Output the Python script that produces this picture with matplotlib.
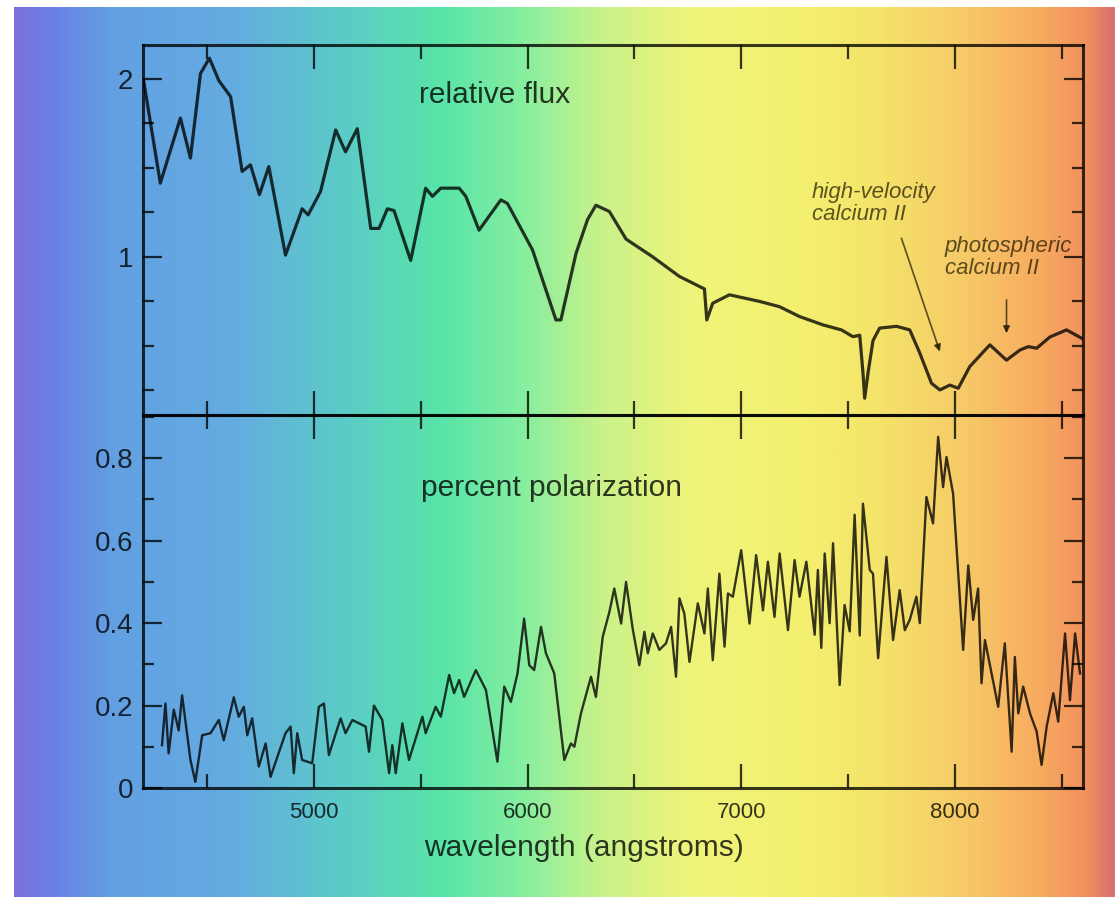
import numpy as np
import matplotlib.pyplot as plt
from matplotlib.colors import LinearSegmentedColormap
from matplotlib.ticker import MultipleLocator, FuncFormatter

plt.rcParams['font.family'] = ['Liberation Sans', 'DejaVu Sans']

# relative flux spectrum (wavelength in angstroms)
flux_wl = [4203, 4281, 4375, 4422, 4469, 4511, 4555, 4610, 4664, 4703,
           4745, 4789, 4867, 4945, 4973, 5031, 5102, 5148, 5203, 5266,
           5305, 5344, 5375, 5453, 5523, 5555, 5594, 5680, 5711, 5773,
           5875, 5906, 6023, 6133, 6156, 6227, 6281, 6320, 6383, 6461,
           6586, 6711, 6828, 6839, 6867, 6945, 7086, 7180, 7273, 7383,
           7469, 7523, 7555, 7570, 7578, 7594, 7617, 7648, 7727, 7789,
           7836, 7891, 7930, 7977, 8016, 8070, 8164, 8242, 8305, 8344,
           8383, 8445, 8523, 8594]
flux = [1.99, 1.414, 1.78, 1.555, 2.03, 2.116, 1.99, 1.90, 1.48, 1.517,
        1.35, 1.507, 1.01, 1.27, 1.236, 1.367, 1.713, 1.59, 1.72, 1.16,
        1.16, 1.27, 1.26, 0.98, 1.386, 1.34, 1.386, 1.386, 1.34, 1.15,
        1.32, 1.30, 1.04, 0.646, 0.646, 1.02, 1.21, 1.29, 1.255, 1.10,
        1.00, 0.89, 0.82, 0.646, 0.74, 0.787, 0.75, 0.72, 0.665, 0.618,
        0.59, 0.552, 0.56, 0.35, 0.206, 0.35, 0.53, 0.60, 0.61, 0.59,
        0.46, 0.29, 0.253, 0.28, 0.262, 0.384, 0.506, 0.42, 0.477, 0.496,
        0.487, 0.55, 0.59, 0.543]

# percent polarization
pol_wl = [4289, 4305, 4320, 4344, 4367, 4383, 4422, 4445, 4477, 4516,
          4555, 4578, 4625, 4648, 4672, 4688, 4711, 4742, 4774, 4797,
          4867, 4891, 4906, 4922, 4945, 4992, 5023, 5047, 5070, 5125,
          5148, 5180, 5242, 5258, 5281, 5320, 5352, 5367, 5383, 5414,
          5445, 5508, 5523, 5570, 5594, 5633, 5656, 5680, 5703, 5758,
          5805, 5859, 5891, 5922, 5953, 5984, 6008, 6031, 6063, 6086,
          6125, 6172, 6203, 6219, 6250, 6297, 6320, 6352, 6383, 6406,
          6438, 6461, 6492, 6523, 6547, 6563, 6586, 6617, 6648, 6672,
          6695, 6711, 6734, 6758, 6797, 6828, 6844, 6867, 6898, 6922,
          6938, 6961, 7000, 7039, 7070, 7102, 7125, 7156, 7180, 7219,
          7250, 7273, 7305, 7344, 7359, 7375, 7391, 7414, 7430, 7461,
          7484, 7508, 7531, 7555, 7570, 7602, 7617, 7641, 7680, 7711,
          7742, 7766, 7789, 7820, 7836, 7867, 7898, 7922, 7945, 7961,
          7992, 8039, 8063, 8086, 8109, 8125, 8141, 8203, 8234, 8266,
          8281, 8297, 8320, 8352, 8383, 8406, 8430, 8461, 8484, 8516,
          8539, 8563, 8586]
pol = [0.104, 0.205, 0.084, 0.19, 0.14, 0.225, 0.068, 0.015, 0.128, 0.133,
       0.165, 0.116, 0.22, 0.173, 0.197, 0.128, 0.169, 0.052, 0.108, 0.027,
       0.133, 0.149, 0.036, 0.133, 0.068, 0.06, 0.197, 0.205, 0.08, 0.169,
       0.133, 0.165, 0.149, 0.088, 0.2, 0.165, 0.036, 0.104, 0.036, 0.157,
       0.068, 0.173, 0.133, 0.197, 0.173, 0.274, 0.23, 0.262, 0.221, 0.286,
       0.238, 0.064, 0.246, 0.209, 0.278, 0.411, 0.298, 0.286, 0.391, 0.327,
       0.278, 0.068, 0.108, 0.1, 0.181, 0.27, 0.221, 0.367, 0.427, 0.484,
       0.399, 0.5, 0.387, 0.298, 0.379, 0.327, 0.375, 0.335, 0.351, 0.391,
       0.27, 0.46, 0.423, 0.306, 0.448, 0.375, 0.484, 0.31, 0.52, 0.343,
       0.472, 0.464, 0.577, 0.399, 0.565, 0.431, 0.549, 0.415, 0.569, 0.383,
       0.553, 0.464, 0.549, 0.372, 0.529, 0.340, 0.569, 0.4, 0.594, 0.25,
       0.444, 0.38, 0.663, 0.37, 0.69, 0.529, 0.52, 0.315, 0.561, 0.359,
       0.48, 0.383, 0.408, 0.464, 0.4, 0.706, 0.642, 0.852, 0.73, 0.803,
       0.714, 0.335, 0.54, 0.408, 0.484, 0.254, 0.359, 0.197, 0.351, 0.088,
       0.318, 0.181, 0.246, 0.181, 0.137, 0.056, 0.149, 0.23, 0.161, 0.375,
       0.213, 0.375, 0.278]

W, H = 1115, 897
fig = plt.figure(figsize=(W / 100, H / 100), dpi=100)
fig.patch.set_facecolor('white')

# rainbow backdrop behind both panels
stops = [(14, '#7a72dc'), (45, '#6c7ee6'), (110, '#62a0e2'), (230, '#64ace0'),
         (340, '#5ccbc8'), (440, '#58e4a8'), (520, '#84eea0'), (600, '#c8f28a'),
         (690, '#eef47a'), (800, '#f4f070'), (880, '#f4e46a'), (960, '#f6cc68'),
         (1040, '#f8ac60'), (1090, '#f0905e'), (1115, '#dc7070')]
spectrum = LinearSegmentedColormap.from_list(
    'spectrum', [((p - 14) / (W - 14), c) for p, c in stops])
bg = fig.add_axes([14 / W, 0, 1 - 14 / W, 1 - 7 / H])
bg.imshow(np.linspace(0, 1, 600)[None, :], aspect='auto', cmap=spectrum,
          extent=[0, 1, 0, 1])
bg.axis('off')

ink = (0, 0, 0, 0.78)
soft = (0.12, 0.1, 0.0, 0.72)

left, width = 143 / W, 940 / W
ax_top = fig.add_axes([left, 1 - 415 / H, width, 370 / H])
ax_bot = fig.add_axes([left, 1 - 788 / H, width, 373 / H])

for ax in (ax_top, ax_bot):
    ax.set_facecolor('none')
    ax.set_xlim(4200, 8600)
    for s in ax.spines.values():
        s.set_edgecolor(ink)
        s.set_linewidth(2.2)
    ax.xaxis.set_major_locator(MultipleLocator(1000))
    ax.xaxis.set_minor_locator(MultipleLocator(500))
    ax.tick_params(which='both', direction='in', top=True, right=True,
                   color=ink, width=1.6, labelcolor=ink, labelsize=20, pad=7)
    ax.tick_params(axis='x', which='major', length=17)
    ax.tick_params(axis='x', which='minor', length=10)
    ax.tick_params(axis='y', which='major', length=14)
    ax.tick_params(axis='y', which='minor', length=8)
    ax.yaxis.set_major_formatter(FuncFormatter(lambda v, _: f'{v:g}'))

# relative flux
ax_top.plot(flux_wl, flux, color=ink, lw=2.3, solid_joinstyle='round')
ax_top.set_ylim(0.112, 2.19)
ax_top.yaxis.set_major_locator(MultipleLocator(1))
ax_top.yaxis.set_minor_locator(MultipleLocator(0.25))
ax_top.tick_params(axis='x', labelbottom=False)
ax_top.text(5492, 1.91, 'relative flux', fontsize=21.5, color=ink, va='center')

ax_top.text(7330, 1.298, 'high-velocity\ncalcium II', fontsize=16,
            style='italic', color=soft, va='center', linespacing=1.05)
ax_top.text(7953, 0.997, 'photospheric\ncalcium II', fontsize=16,
            style='italic', color=soft, va='center', linespacing=1.05)
arrow = dict(arrowstyle='-|>', color=soft, lw=1.2, mutation_scale=10,
             shrinkA=0, shrinkB=0)
ax_top.annotate('', xy=(7930, 0.468), xytext=(7750, 1.105), arrowprops=arrow)
ax_top.annotate('', xy=(8242, 0.571), xytext=(8242, 0.758), arrowprops=arrow)

# percent polarization
ax_bot.plot(pol_wl, pol, color=ink, lw=1.7, solid_joinstyle='round')
ax_bot.set_ylim(0, 0.905)
ax_bot.yaxis.set_major_locator(MultipleLocator(0.2))
ax_bot.yaxis.set_minor_locator(MultipleLocator(0.1))
ax_bot.tick_params(axis='x', labelsize=16, pad=10)
ax_bot.text(5502, 0.727, 'percent polarization', fontsize=21.5, color=ink,
            va='center')

fig.text(583.5 / W, 1 - 848 / H, 'wavelength (angstroms)', fontsize=21.5,
         color=ink, ha='center', va='center')

fig.savefig('out.png', dpi=100, facecolor='white')
